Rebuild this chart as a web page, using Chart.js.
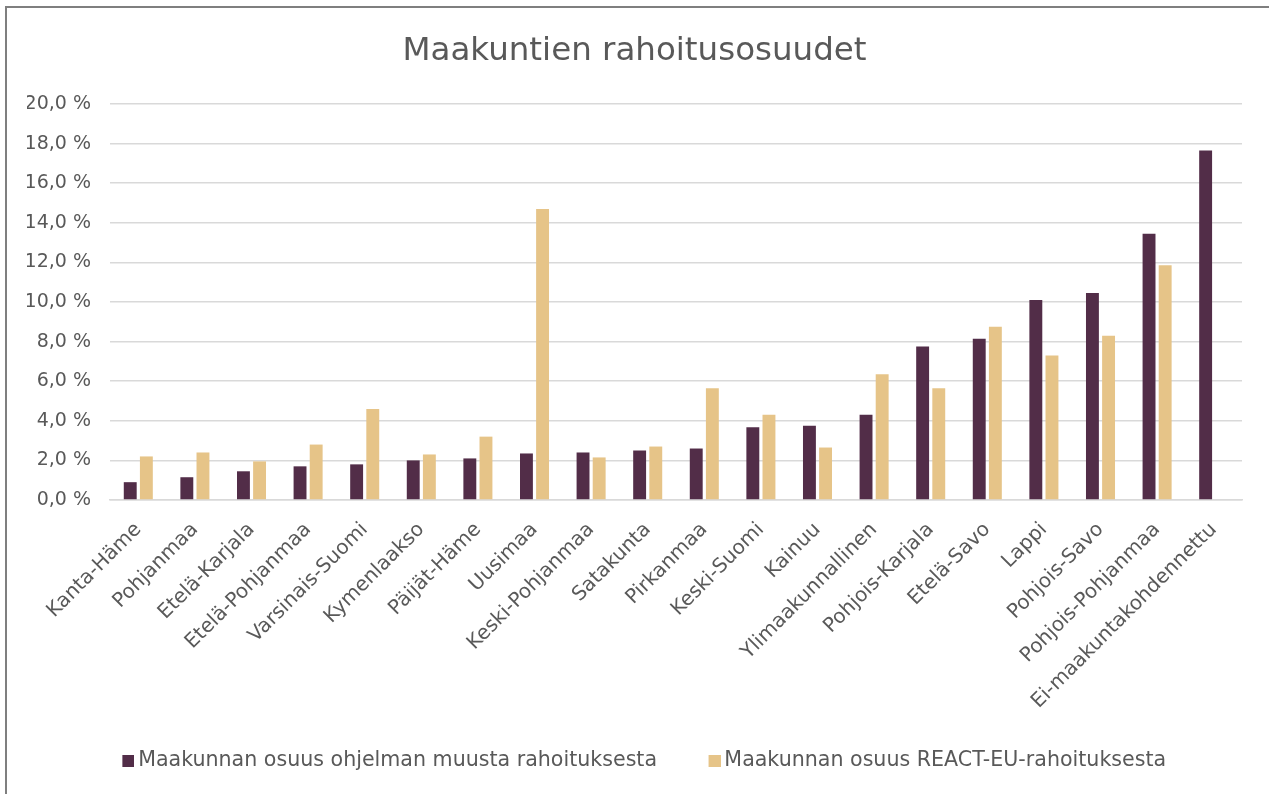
<!DOCTYPE html>
<html>
<head>
<meta charset="utf-8">
<script src="https://cdn.jsdelivr.net/npm/chart.js@4"></script>
<style>
  html, body { margin: 0; padding: 0; background: #ffffff; overflow: hidden; }
  #wrap { position: relative; width: 1269px; height: 794px; }
  #frame { position: absolute; left: 5px; top: 6px; right: -10px; bottom: -10px;
           border-left: 2px solid #7f7f7f; border-top: 2px solid #7f7f7f; pointer-events: none; }
</style>
</head>
<body>
<div id="wrap">
  <canvas id="c" width="1269" height="794"></canvas>
  <div id="frame"></div>
</div>
<script>
const chartTitle = 'Maakuntien rahoitusosuudet';
const categories = ['Kanta-Häme','Pohjanmaa','Etelä-Karjala','Etelä-Pohjanmaa','Varsinais-Suomi','Kymenlaakso','Päijät-Häme','Uusimaa','Keski-Pohjanmaa','Satakunta','Pirkanmaa','Keski-Suomi','Kainuu','Ylimaakunnallinen','Pohjois-Karjala','Etelä-Savo','Lappi','Pohjois-Savo','Pohjois-Pohjanmaa','Ei-maakuntakohdennettu'];
const seriesNames = ['Maakunnan osuus ohjelman muusta rahoituksesta','Maakunnan osuus REACT-EU-rahoituksesta'];
const muuRahoitus = [0.9,1.15,1.45,1.7,1.8,2.0,2.1,2.35,2.4,2.5,2.6,3.68,3.75,4.3,7.75,8.15,10.1,10.45,13.45,17.65];
const reactEU = [2.2,2.4,1.95,2.8,4.6,2.3,3.2,14.7,2.15,2.7,5.65,4.3,2.65,6.35,5.65,8.75,7.3,8.3,11.85,0];
const yMin = 0, yMax = 20, yStep = 2;
const seriesColors = ['#522d48', '#e6c488'];

const txt = '#595959';
const fontFam = '"DejaVu Sans", sans-serif';

// legend marker: small square placed at the right of a transparent strip
function marker(color) {
  const cv = document.createElement('canvas');
  cv.width = 38; cv.height = 12;
  const g = cv.getContext('2d');
  g.fillStyle = color;
  g.fillRect(26, 0, 12, 12);
  return cv;
}

new Chart(document.getElementById('c'), {
  type: 'bar',
  data: {
    labels: categories,
    datasets: [
      { label: seriesNames[0], data: muuRahoitus, backgroundColor: seriesColors[0], borderWidth: 0, pointStyle: marker(seriesColors[0]) },
      { label: seriesNames[1], data: reactEU, backgroundColor: seriesColors[1], borderWidth: 0, pointStyle: marker(seriesColors[1]) }
    ]
  },
  options: {
    responsive: false,
    animation: false,
    devicePixelRatio: 1,
    layout: { padding: { left: 27, right: 27, top: 0, bottom: 12.7 } },
    datasets: { bar: { categoryPercentage: 0.57, barPercentage: 0.8 } },
    plugins: {
      title: {
        display: true, text: chartTitle, color: txt,
        font: { family: fontFam, size: 32.5, weight: 'normal' },
        padding: { top: 32, bottom: 33 }
      },
      legend: {
        position: 'bottom',
        labels: {
          color: txt, usePointStyle: true, pointStyleWidth: 25, boxHeight: 12, padding: 32,
          font: { family: fontFam, size: 20.6 }
        }
      },
      tooltip: { enabled: false }
    },
    scales: {
      x: {
        grid: { display: false, drawTicks: false },
        border: { display: true, color: '#d9d9d9', width: 1.5 },
        ticks: { color: txt, font: { family: fontFam, size: 20 }, maxRotation: 45, minRotation: 45, padding: 18, autoSkip: false },
        afterFit: (s) => { s.height = 218.7; }
      },
      y: {
        min: yMin, max: yMax,
        grid: { color: '#d9d9d9', lineWidth: 1.5, drawTicks: false },
        border: { display: false },
        ticks: {
          stepSize: yStep, color: txt, padding: 19,
          font: { family: fontFam, size: 19 },
          callback: (v) => v.toFixed(1).replace('.', ',') + '\u00a0%'
        },
        afterFit: (s) => { s.width = 83; }
      }
    }
  }
});
</script>
</body>
</html>
